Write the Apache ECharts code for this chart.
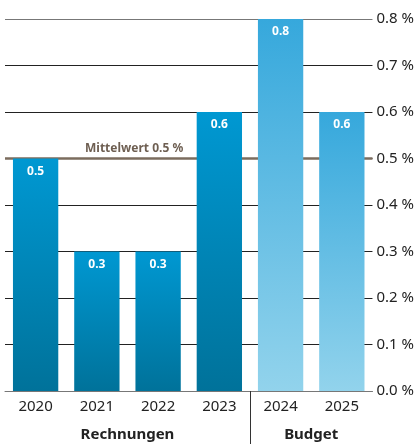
<!DOCTYPE html>
<html>
<head>
<meta charset="utf-8">
<script src="https://cdn.jsdelivr.net/npm/echarts@6/dist/echarts.min.js"></script>
<style>
  html, body { margin: 0; padding: 0; background: #fff; }
  #chart { width: 417px; height: 444px; }
</style>
</head>
<body>
<div id="chart"></div>
<script>
const years = ["2020", "2021", "2022", "2023", "2024", "2025"];
const values = [0.5, 0.3, 0.3, 0.6, 0.8, 0.6];
const isBudget = [false, false, false, false, true, true];
const groups = ["Rechnungen", "Budget"];
const meanValue = 0.5;

const font = "'Noto Sans', sans-serif";

const actualColor = new echarts.graphic.LinearGradient(0, 0, 0, 1, [
  { offset: 0, color: "#0098d2" },
  { offset: 1, color: "#00729a" },
]);
const budgetColor = new echarts.graphic.LinearGradient(0, 0, 0, 1, [
  { offset: 0, color: "#36a8dc" },
  { offset: 1, color: "#92d3ec" },
]);

const chart = echarts.init(document.getElementById("chart"));

chart.setOption({
  animation: false,
  textStyle: { fontFamily: font },
  grid: { left: 5, right: 40, top: 19, bottom: 53, containLabel: false },
  xAxis: [
    {
      type: "category",
      data: years,
      axisLine: { show: true, lineStyle: { color: "#777", width: 1 } },
      axisTick: { show: false },
      axisLabel: { color: "#222", fontSize: 15, margin: 8, fontFamily: font },
    },
    {
      // group labels and divider
      type: "value",
      position: "bottom",
      min: 0,
      max: years.length,
      axisLine: { show: false },
      splitLine: { show: false },
      axisTick: {
        show: true,
        customValues: [4],
        length: 53,
        lineStyle: { color: "#333", width: 1 },
      },
      axisLabel: {
        customValues: [2, 5],
        margin: 36,
        color: "#222",
        fontSize: 15,
        fontWeight: "bold",
        fontFamily: font,
        formatter: (v) => (v === 2 ? groups[0] : v === 5 ? groups[1] : ""),
      },
    },
  ],
  yAxis: {
    type: "value",
    position: "right",
    min: 0,
    max: 0.8,
    interval: 0.1,
    axisLine: { show: false },
    axisTick: { show: false },
    splitLine: {
      lineStyle: {
        color: ["#777", "#222", "#222", "#222", "#222", "#222", "#222", "#222", "#777"],
        width: 1,
      },
    },
    axisLabel: {
      color: "#222",
      fontSize: 15,
      margin: 4,
      fontFamily: font,
      formatter: (v) => v.toFixed(1) + " %",
    },
  },
  series: [
    {
      type: "bar",
      xAxisIndex: 0,
      barCategoryGap: "26%",
      data: values.map((v, i) => ({
        value: v,
        itemStyle: { color: isBudget[i] ? budgetColor : actualColor },
      })),
      label: {
        show: true,
        position: "insideTop",
        distance: 7,
        color: "#fff",
        fontSize: 12,
        fontWeight: "bold",
        fontFamily: font,
        formatter: (p) => p.value.toFixed(1),
      },
      z: 3,
      markLine: {
        silent: true,
        symbol: "none",
        z: 1,
        lineStyle: { color: "#7b6c5e", width: 2.5, type: "solid" },
        label: {
          position: "insideStartTop",
          distance: [80, 4],
          color: "#6e5f52",
          fontSize: 12,
          fontWeight: "bold",
          fontFamily: font,
          formatter: "Mittelwert " + meanValue.toFixed(1) + " %",
        },
        data: [{ yAxis: meanValue }],
      },
    },
  ],
});
</script>
</body>
</html>
